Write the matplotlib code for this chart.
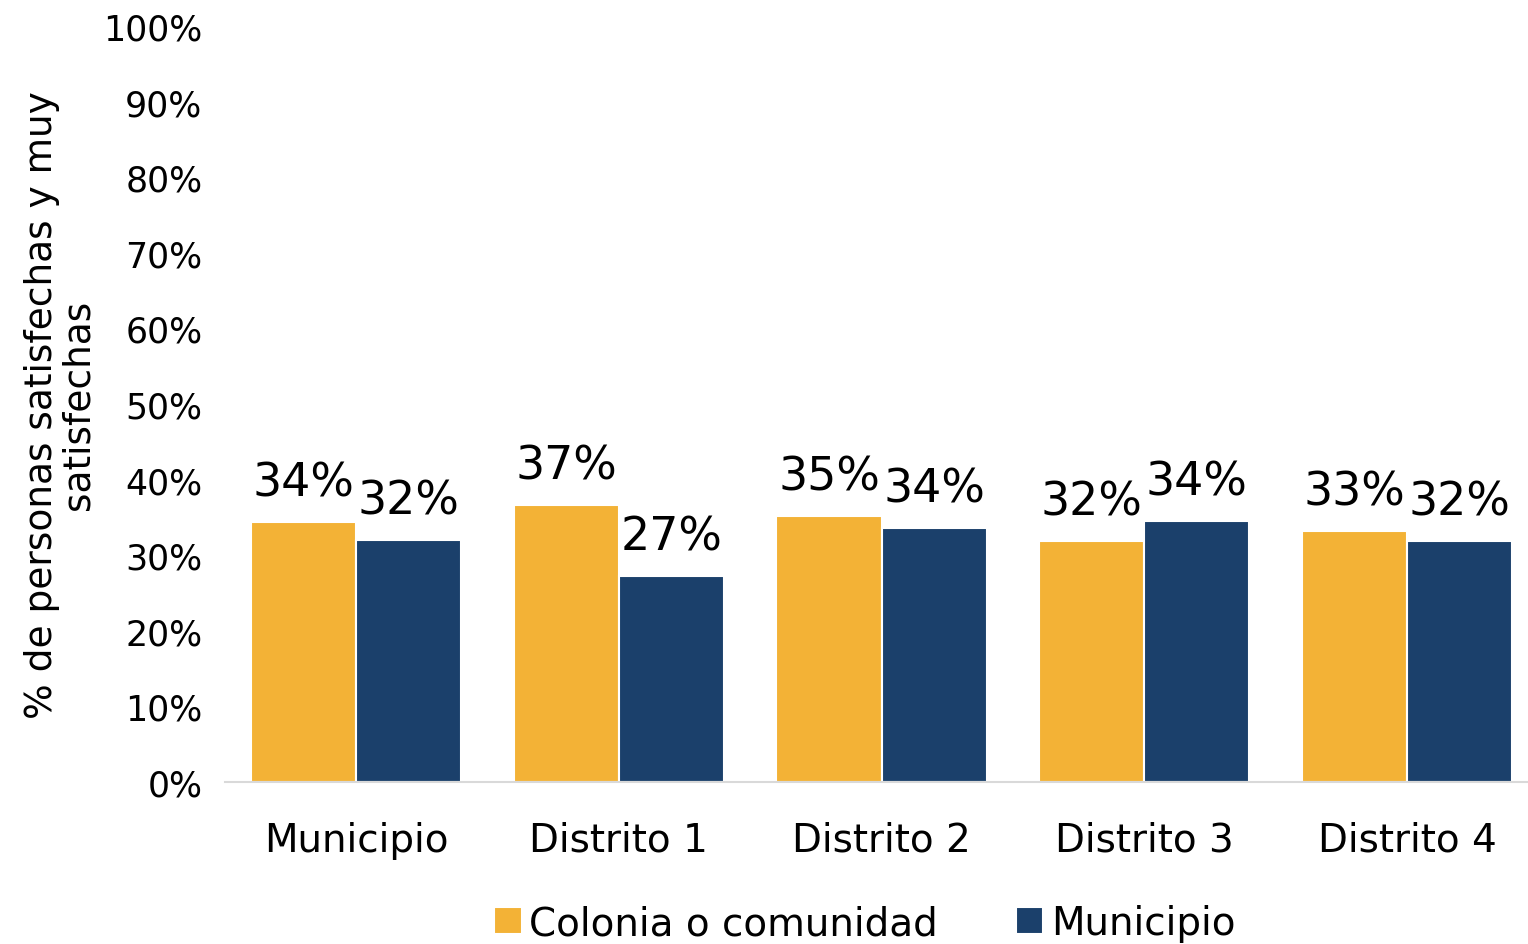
import numpy as np
import matplotlib
matplotlib.use("Agg")
import matplotlib.pyplot as plt

plt.rcParams['font.family'] = ['DejaVu Sans']

categories = ["Municipio", "Distrito 1", "Distrito 2", "Distrito 3", "Distrito 4"]
colonia = [34.4, 36.6, 35.2, 31.9, 33.2]
municipio = [32.0, 27.2, 33.6, 34.5, 31.9]
series_names = ["Colonia o comunidad", "Municipio"]
colors = ["#F3B236", "#1B406B"]

fig = plt.figure(figsize=(15.28, 9.45), dpi=100)
ax = fig.add_axes([0.147, 0.1714, 0.853, 0.80])

x = np.arange(len(categories))
w = 0.4
b1 = ax.bar(x - w / 2, colonia, w, color=colors[0], edgecolor="white", linewidth=1.5, label=series_names[0])
b2 = ax.bar(x + w / 2, municipio, w, color=colors[1], edgecolor="white", linewidth=1.5, label=series_names[1])

for bars, vals in [(b1, colonia), (b2, municipio)]:
    for r, v in zip(bars, vals):
        ax.annotate(f"{round(v):.0f}%", (r.get_x() + r.get_width() / 2, v),
                    xytext=(0, 12), textcoords="offset points",
                    ha="center", va="bottom", fontsize=33)

ax.set_ylim(0, 100)
ax.set_xlim(-0.5, 4.46)
ax.set_yticks(range(0, 101, 10))
ax.set_yticklabels([f"{t}%" for t in range(0, 101, 10)], fontsize=25)
ax.set_xticks(x)
ax.set_xticklabels(categories, fontsize=28)
ax.tick_params(length=0)
ax.tick_params(axis="x", pad=28)
ax.tick_params(axis="y", pad=16)
for s in ["top", "right", "left"]:
    ax.spines[s].set_visible(False)
ax.spines["bottom"].set_color("#D9D9D9")
ax.spines["bottom"].set_linewidth(1.5)

ax.set_ylabel("% de personas satisfechas y muy\nsatisfechas", fontsize=27, linespacing=1.0, labelpad=5)

fig.legend(handles=[b1, b2], labels=series_names, loc="center", bbox_to_anchor=(0.566, 0.022),
           ncol=2, frameon=False, fontsize=28, handlelength=0.7, handleheight=0.7,
           handletextpad=0.2, columnspacing=2.0)

fig.savefig("out.png", dpi=100)
